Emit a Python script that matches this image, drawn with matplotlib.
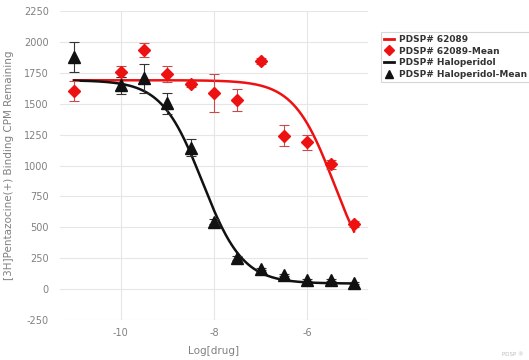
import matplotlib.pyplot as plt
from matplotlib.lines import Line2D
import numpy as np

plt.rcParams['axes.unicode_minus'] = False

# log molar concentrations
log_conc = [-11, -10, -9.5, -9, -8.5, -8, -7.5, -7, -6.5, -6, -5.5, -5]

# PDSP# 62089 means and errors
cmp_mean = [1600, 1760, 1935, 1740, 1658, 1588, 1530, 1845, 1242, 1187, 1010, 525]
cmp_err = [80, 45, 60, 65, 20, 155, 85, 25, 85, 63, 35, 25]

# Haloperidol means and errors
hal_mean = [1880, 1650, 1705, 1505, 1145, 545, 252, 162, 113, 73, 73, 50]
hal_err = [120, 70, 120, 85, 70, 20, 15, 10, 10, 8, 8, 8]

# fitted one-site curves: (top, bottom, logIC50, hill)
cmp_fit = (1690, 0, -5.42, 1.0)
hal_fit = (1690, 45, -8.25, 1.0)


def sigmoid(x, top, bottom, logic50, hill):
    return bottom + (top - bottom) / (1 + 10 ** ((x - logic50) * hill))


RED = '#ee1111'
BLACK = '#111111'

fig = plt.figure(figsize=(5.29, 3.6), dpi=100)
ax = fig.add_axes([0.1134, 0.1111, 0.5823, 0.8583])

xs = np.linspace(-11, -5, 300)
ax.plot(xs, sigmoid(xs, *cmp_fit), color=RED, lw=1.8, zorder=3)
ax.plot(xs, sigmoid(xs, *hal_fit), color=BLACK, lw=1.8, zorder=3)

ax.errorbar(log_conc, cmp_mean, yerr=cmp_err, fmt='D', color=RED, ms=6,
            ecolor='#c84a4a', elinewidth=0.8, capsize=3.5, capthick=0.8, zorder=4)
ax.errorbar(log_conc, hal_mean, yerr=hal_err, fmt='^', color=BLACK, ms=8,
            ecolor='#333333', elinewidth=0.8, capsize=3.5, capthick=0.8, zorder=4)

ax.set_xlim(-11.3, -4.7)
ax.set_ylim(-250, 2250)
ax.set_xticks([-10, -8, -6])
ax.set_yticks(np.arange(-250, 2251, 250))
ax.grid(True, color='#e6e6e6', lw=0.8)
ax.set_axisbelow(True)
for s in ax.spines.values():
    s.set_visible(False)
ax.tick_params(length=0, labelsize=7, labelcolor='#808080')
ax.tick_params(axis='x', pad=6)
ax.tick_params(axis='y', pad=8)

ax.set_xlabel('Log[drug]', fontsize=7.5, color='#808080')
ax.xaxis.set_label_coords(0.5, -0.085)
ax.set_ylabel('[3H]Pentazocine(+) Binding CPM Remaining', fontsize=7.5,
              color='#808080')
ax.yaxis.set_label_coords(-0.15, 0.5)

handles = [
    Line2D([], [], color=RED, lw=2),
    Line2D([], [], color=RED, marker='D', ls='none', ms=5),
    Line2D([], [], color=BLACK, lw=2),
    Line2D([], [], color=BLACK, marker='^', ls='none', ms=6),
]
labels = ['PDSP# 62089', 'PDSP# 62089-Mean', 'PDSP# Haloperidol',
          'PDSP# Haloperidol-Mean']
leg = fig.legend(handles, labels, loc='upper left', bbox_to_anchor=(0.711, 0.925),
                 fontsize=6.5, frameon=True, fancybox=False, handlelength=1.1,
                 handletextpad=0.5, labelspacing=0.28, borderpad=0.4)
leg.get_frame().set_edgecolor('#cccccc')
leg.get_frame().set_linewidth(0.8)
for t in leg.get_texts():
    t.set_color('#333333')
    t.set_fontweight('bold')

fig.text(0.99, 0.012, 'PDSP ®', fontsize=4, color='#bbbbbb', ha='right')

plt.savefig('out.png', dpi=100)
